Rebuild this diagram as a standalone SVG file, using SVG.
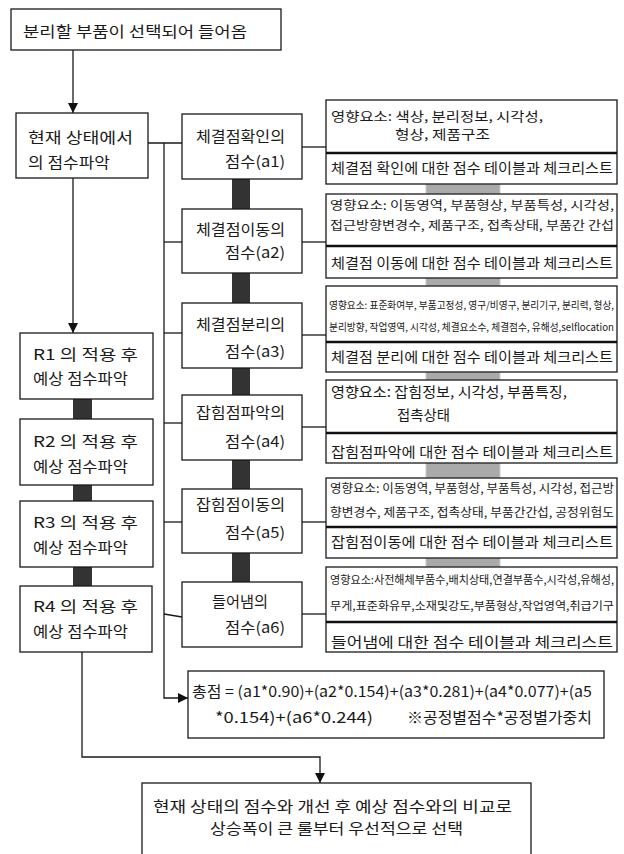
<svg xmlns="http://www.w3.org/2000/svg" width="624" height="854" viewBox="0 0 624 854">
<defs>
<marker id="ah" viewBox="0 0 10 10" refX="10" refY="5" markerWidth="10" markerHeight="10" markerUnits="userSpaceOnUse" orient="auto"><path d="M0,0 L10,5 L0,10 z" fill="#111"/></marker>
<style>
text{font-family:"Noto Sans CJK KR","Noto Sans",sans-serif;fill:#1a1a1a}
.b{fill:#fff;stroke:#1a1a1a;stroke-width:1.3}
.t{font-size:15px}
.s{font-size:14px}
.x{font-size:13px}
.z{font-size:12px}
.w{font-size:11px}
.y{font-size:10px}
.dk{fill:#333}
.gr{fill:#aaa;stroke:#ccc;stroke-width:1}
.ln{fill:none;stroke:#1a1a1a;stroke-width:1.3}
.sep{stroke:#111;stroke-width:2.5}
</style>
</defs>
<rect width="624" height="854" fill="#fff"/>
<g id="bars">
<rect class="dk" x="232" y="179" width="18" height="30"/>
<rect class="dk" x="232" y="273" width="18" height="30"/>
<rect class="dk" x="232" y="368" width="18" height="27"/>
<rect class="dk" x="232" y="460" width="18" height="29"/>
<rect class="dk" x="232" y="553" width="18" height="29"/>
<rect class="dk" x="73" y="399" width="19" height="20"/>
<rect class="dk" x="73" y="485" width="19" height="16"/>
<rect class="dk" x="73" y="567" width="19" height="19"/>
<rect class="gr" x="426" y="184" width="74" height="10"/>
<rect class="gr" x="426" y="278" width="74" height="8"/>
<rect class="gr" x="426" y="372" width="74" height="8"/>
<rect class="gr" x="426" y="463" width="74" height="15"/>
<rect class="gr" x="426" y="558" width="74" height="9"/>
</g>
<g id="connectors">
<line class="ln" x1="73" y1="50" x2="73" y2="113" marker-end="url(#ah)"/>
<line class="ln" x1="73" y1="178" x2="73" y2="333" marker-end="url(#ah)"/>
<polyline class="ln" points="148,143 182,143"/>
<polyline class="ln" points="164,143 164,698 188,698" marker-end="url(#ah)"/>
<line class="ln" x1="164" y1="242" x2="182" y2="242"/>
<line class="ln" x1="164" y1="333" x2="182" y2="333"/>
<line class="ln" x1="164" y1="423" x2="182" y2="423"/>
<line class="ln" x1="164" y1="522" x2="182" y2="522"/>
<line class="ln" x1="164" y1="614" x2="182" y2="617"/>
<line class="ln" x1="302" y1="147" x2="326" y2="147"/>
<line class="ln" x1="302" y1="242" x2="326" y2="242"/>
<line class="ln" x1="302" y1="335" x2="326" y2="335"/>
<line class="ln" x1="302" y1="427" x2="326" y2="427"/>
<line class="ln" x1="302" y1="522" x2="326" y2="522"/>
<line class="ln" x1="302" y1="614" x2="326" y2="614"/>
<polyline class="ln" points="82,652 82,757 320,757 320,783" marker-end="url(#ah)"/>
</g>
<g id="start">
<rect class="b" x="11" y="9" width="270" height="41"/>
<text class="t" x="23" y="37" textLength="224" lengthAdjust="spacingAndGlyphs">분리할 부품이 선택되어 들어옴</text>
</g>
<g id="current">
<rect class="b" x="16" y="113" width="132" height="65"/>
<text class="t" x="28" y="143" textLength="105" lengthAdjust="spacingAndGlyphs">현재  상태에서</text>
<text class="t" x="28" y="168" textLength="82" lengthAdjust="spacingAndGlyphs">의 점수파악</text>
</g>
<g id="r1">
<rect class="b" x="20" y="333" width="133" height="66"/>
<text class="t" x="33" y="360" textLength="105" lengthAdjust="spacingAndGlyphs">R1 의 적용 후</text>
<text class="t" x="33" y="384" textLength="95" lengthAdjust="spacingAndGlyphs">예상 점수파악</text>
</g>
<g id="r2">
<rect class="b" x="20" y="419" width="133" height="66"/>
<text class="t" x="33" y="447" textLength="105" lengthAdjust="spacingAndGlyphs">R2 의 적용 후</text>
<text class="t" x="33" y="472" textLength="95" lengthAdjust="spacingAndGlyphs">예상 점수파악</text>
</g>
<g id="r3">
<rect class="b" x="20" y="501" width="133" height="66"/>
<text class="t" x="33" y="528" textLength="105" lengthAdjust="spacingAndGlyphs">R3 의 적용 후</text>
<text class="t" x="33" y="553" textLength="95" lengthAdjust="spacingAndGlyphs">예상 점수파악</text>
</g>
<g id="r4">
<rect class="b" x="20" y="586" width="132" height="66"/>
<text class="t" x="33" y="612" textLength="105" lengthAdjust="spacingAndGlyphs">R4 의 적용 후</text>
<text class="t" x="33" y="637" textLength="95" lengthAdjust="spacingAndGlyphs">예상 점수파악</text>
</g>
<g id="a1">
<rect class="b" x="182" y="114" width="120" height="65"/>
<text class="t" x="196" y="142" textLength="89" lengthAdjust="spacingAndGlyphs">체결점확인의</text>
<text class="t" x="225" y="167" textLength="60" lengthAdjust="spacingAndGlyphs">점수(a1)</text>
</g>
<g id="a2">
<rect class="b" x="182" y="209" width="120" height="64"/>
<text class="t" x="196" y="235" textLength="89" lengthAdjust="spacingAndGlyphs">체결점이동의</text>
<text class="t" x="225" y="258" textLength="60" lengthAdjust="spacingAndGlyphs">점수(a2)</text>
</g>
<g id="a3">
<rect class="b" x="182" y="303" width="120" height="65"/>
<text class="t" x="196" y="330" textLength="89" lengthAdjust="spacingAndGlyphs">체결점분리의</text>
<text class="t" x="225" y="357" textLength="60" lengthAdjust="spacingAndGlyphs">점수(a3)</text>
</g>
<g id="a4">
<rect class="b" x="182" y="395" width="120" height="65"/>
<text class="t" x="196" y="418" textLength="89" lengthAdjust="spacingAndGlyphs">잡힘점파악의</text>
<text class="t" x="225" y="447" textLength="60" lengthAdjust="spacingAndGlyphs">점수(a4)</text>
</g>
<g id="a5">
<rect class="b" x="182" y="489" width="120" height="64"/>
<text class="t" x="196" y="510" textLength="89" lengthAdjust="spacingAndGlyphs">잡힘점이동의</text>
<text class="t" x="225" y="538" textLength="60" lengthAdjust="spacingAndGlyphs">점수(a5)</text>
</g>
<g id="a6">
<rect class="b" x="182" y="582" width="120" height="65"/>
<text class="t" x="212" y="607" textLength="56" lengthAdjust="spacingAndGlyphs">들어냄의</text>
<text class="t" x="225" y="633" textLength="60" lengthAdjust="spacingAndGlyphs">점수(a6)</text>
</g>
<g id="f1">
<rect class="b" x="326" y="100" width="291" height="84"/>
<line class="sep" x1="326" y1="153" x2="617" y2="153"/>
<text class="x" x="331" y="121" textLength="212" lengthAdjust="spacingAndGlyphs">영향요소: 색상, 분리정보, 시각성,</text>
<text class="x" x="395" y="139" textLength="95" lengthAdjust="spacingAndGlyphs">형상, 제품구조</text>
<text class="s" x="331" y="173" textLength="282" lengthAdjust="spacingAndGlyphs">체결점 확인에 대한 점수 테이블과 체크리스트</text>
</g>
<g id="f2">
<rect class="b" x="326" y="194" width="291" height="84"/>
<line class="sep" x1="326" y1="246" x2="617" y2="246"/>
<text class="z" x="330" y="210" textLength="284" lengthAdjust="spacingAndGlyphs">영향요소: 이동영역, 부품형상, 부품특성, 시각성,</text>
<text class="z" x="330" y="230" textLength="284" lengthAdjust="spacingAndGlyphs">접근방향변경수, 제품구조, 접촉상태, 부품간 간섭</text>
<text class="s" x="331" y="268" textLength="282" lengthAdjust="spacingAndGlyphs">체결점 이동에 대한 점수 테이블과 체크리스트</text>
</g>
<g id="f3">
<rect class="b" x="326" y="286" width="291" height="86"/>
<line class="sep" x1="326" y1="342" x2="617" y2="342"/>
<text class="y" x="329" y="309" textLength="285" lengthAdjust="spacingAndGlyphs">영향요소: 표준화여부, 부품고정성, 영구/비영구, 분리기구, 분리력, 형상,</text>
<text class="y" x="329" y="331" textLength="285" lengthAdjust="spacingAndGlyphs">분리방향, 작업영역, 시각성, 체결요소수, 체결점수, 유해성,selflocation</text>
<text class="s" x="331" y="362" textLength="282" lengthAdjust="spacingAndGlyphs">체결점 분리에 대한 점수 테이블과 체크리스트</text>
</g>
<g id="f4">
<rect class="b" x="326" y="380" width="291" height="83"/>
<line class="sep" x1="326" y1="433" x2="617" y2="433"/>
<text class="s" x="331" y="397" textLength="236" lengthAdjust="spacingAndGlyphs">영향요소: 잡힘정보, 시각성, 부품특징,</text>
<text class="s" x="397" y="420" textLength="53" lengthAdjust="spacingAndGlyphs">접촉상태</text>
<text class="s" x="331" y="457" textLength="282" lengthAdjust="spacingAndGlyphs">잡힘점파악에 대한 점수 테이블과 체크리스트</text>
</g>
<g id="f5">
<rect class="b" x="326" y="478" width="291" height="80"/>
<line class="sep" x1="326" y1="527" x2="617" y2="527"/>
<text class="z" x="330" y="493" textLength="284" lengthAdjust="spacingAndGlyphs">영향요소: 이동영역, 부품형상, 부품특성, 시각성, 접근방</text>
<text class="z" x="330" y="517" textLength="284" lengthAdjust="spacingAndGlyphs">향변경수, 제품구조, 접촉상태, 부품간간섭, 공정위험도</text>
<text class="s" x="331" y="547" textLength="282" lengthAdjust="spacingAndGlyphs">잡힘점이동에 대한 점수 테이블과 체크리스트</text>
</g>
<g id="f6">
<rect class="b" x="326" y="567" width="291" height="85"/>
<line class="sep" x1="326" y1="622" x2="617" y2="622"/>
<text class="w" x="330" y="584" textLength="284" lengthAdjust="spacingAndGlyphs">영향요소:사전해체부품수,배치상태,연결부품수,시각성,유해성,</text>
<text class="w" x="330" y="610" textLength="284" lengthAdjust="spacingAndGlyphs">무게,표준화유무,소재및강도,부품형상,작업영역,취급기구</text>
<text class="s" x="331" y="647" textLength="282" lengthAdjust="spacingAndGlyphs">들어냄에 대한 점수 테이블과 체크리스트</text>
</g>
<g id="total">
<rect class="b" x="188" y="671" width="416" height="67"/>
<text class="t" x="192" y="697" textLength="400" lengthAdjust="spacingAndGlyphs">총점 = (a1*0.90)+(a2*0.154)+(a3*0.281)+(a4*0.077)+(a5</text>
<text class="t" x="215" y="723" textLength="158" lengthAdjust="spacingAndGlyphs">*0.154)+(a6*0.244)</text>
<text class="t" x="407" y="723" textLength="185" lengthAdjust="spacingAndGlyphs">※공정별점수*공정별가중치</text>
</g>
<g id="result">
<rect class="b" x="142" y="783" width="389" height="80"/>
<text class="t" x="153" y="812" textLength="359" lengthAdjust="spacingAndGlyphs">현재 상태의 점수와 개선 후 예상 점수와의 비교로</text>
<text class="t" x="210" y="834" textLength="253" lengthAdjust="spacingAndGlyphs">상승폭이 큰 룰부터 우선적으로 선택</text>
</g>
</svg>
